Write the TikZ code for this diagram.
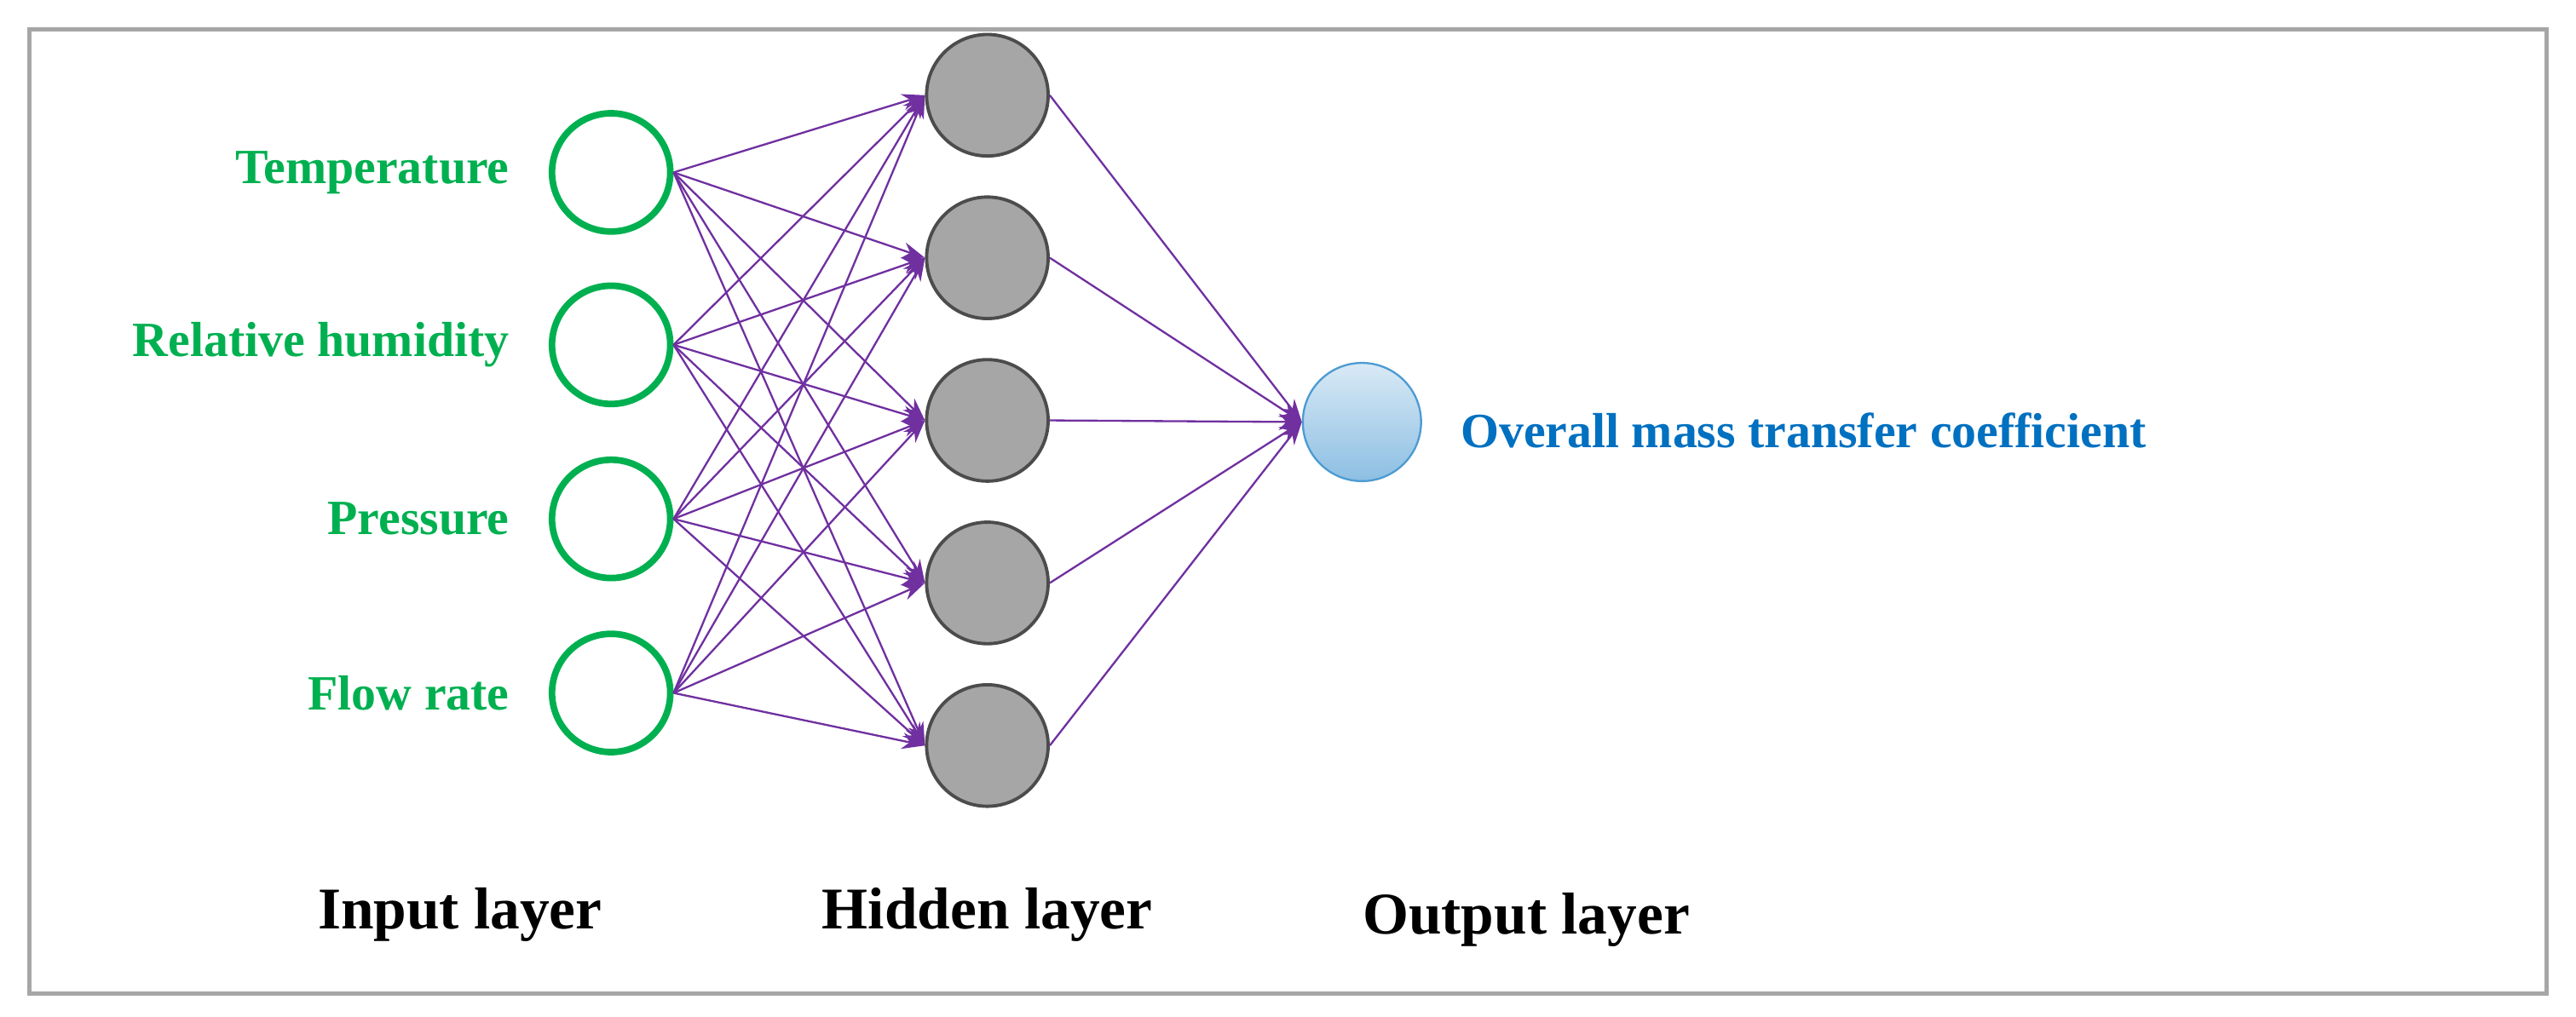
\documentclass[tikz,border=0pt]{standalone}
\usepackage{fontspec}
\setmainfont{Liberation Serif}
\usetikzlibrary{arrows.meta}
\definecolor{ingreen}{RGB}{0,176,80}
\definecolor{edgepurple}{RGB}{112,48,160}
\definecolor{outblue}{RGB}{0,112,192}
\begin{document}
\begin{tikzpicture}[x=0.5pt,y=-0.5pt,
    innode/.style={circle,draw=ingreen,line width=2pt,minimum size=36pt,inner sep=0pt},
    hidnode/.style={circle,draw=black!70,fill=black!35,line width=1pt,minimum size=37pt,inner sep=0pt},
    outnode/.style={circle,draw=outblue!70,line width=0.6pt,top color=outblue!15,bottom color=outblue!45,minimum size=36pt,inner sep=0pt},
    inlabel/.style={text=ingreen,font=\fontsize{15}{18}\selectfont\bfseries,anchor=east},
    layerlabel/.style={font=\fontsize{18}{22}\selectfont\bfseries},
    link/.style={draw=edgepurple,line width=0.6pt,-{Stealth[length=7pt,width=5pt]}}]
% frame
\useasboundingbox (0,0) rectangle (1568,619);
\draw[black!35,line width=1.2pt] (18,18) rectangle (1550,605);
% input layer
\foreach \i/\y/\txt in {1/105/Temperature,2/210/Relative humidity,3/316/Pressure,4/422/Flow rate}{
  \node[innode] (in\i) at (372,\y) {};
  \node[inlabel] (lab\i) at (317,\y) {\txt};
}
% hidden layer
\foreach \j/\y in {1/58,2/157,3/256,4/355,5/454}
  \node[hidnode] (hid\j) at (601,\y) {};
% output layer
\node[outnode] (out) at (829,257) {};
\node[anchor=west,text=outblue,font=\fontsize{15}{18}\selectfont\bfseries] (outlab) at (882,262) {Overall mass transfer coefficient};
% connections
\foreach \i in {1,...,4}
  \foreach \j in {1,...,5}
    \draw[link] (in\i.east) -- (hid\j.west);
\foreach \j in {1,...,5}
  \draw[link] (hid\j.east) -- (out.west);
% layer names
\node[layerlabel] (inname) at (280,557) {Input layer};
\node[layerlabel] (hidname) at (601,557) {Hidden layer};
\node[layerlabel] (outname) at (929,560) {Output layer};
\end{tikzpicture}
\end{document}
